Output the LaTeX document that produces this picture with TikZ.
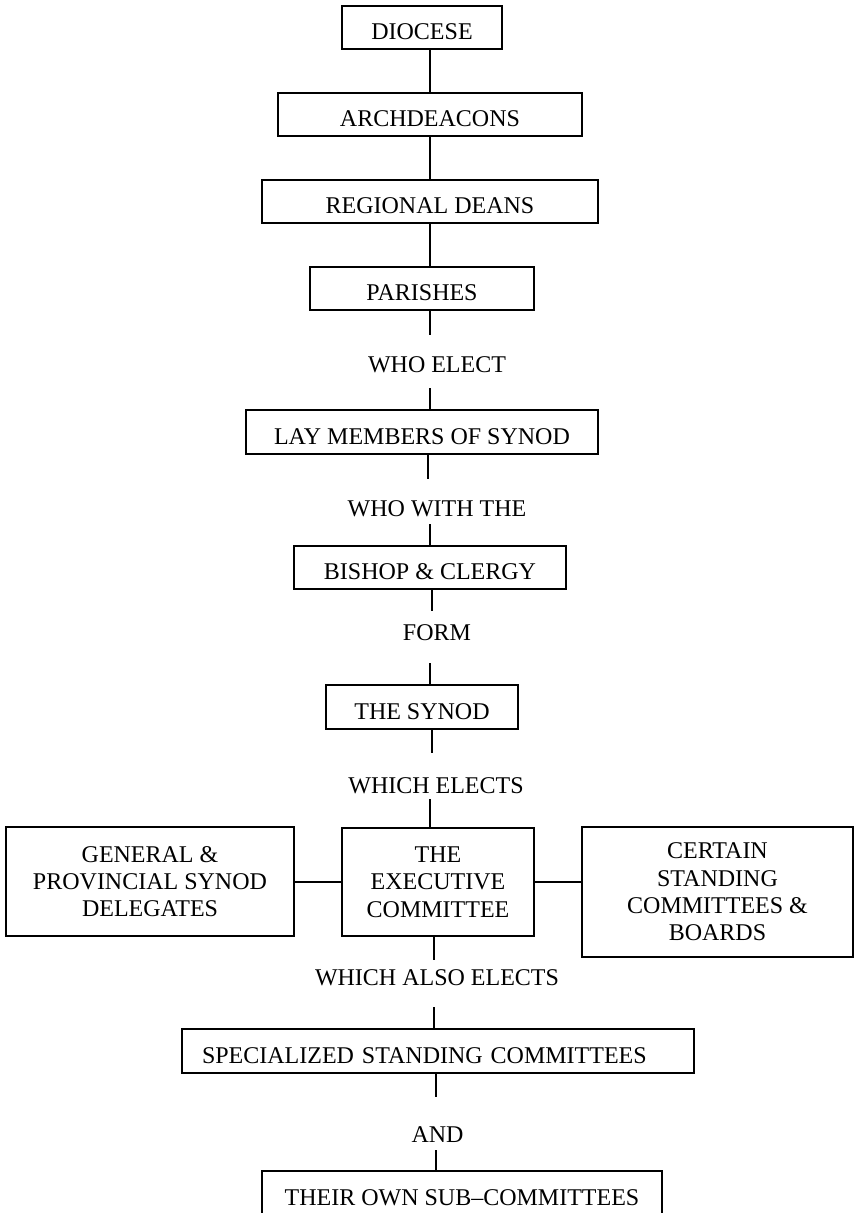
\documentclass[tikz,border=0pt]{standalone}
\usepackage{fontspec}
\setmainfont{Liberation Serif}
\begin{document}
\begin{tikzpicture}[x=1pt,y=-1pt,
  every node/.style={font=\fontsize{24}{27.3}\selectfont, inner sep=0pt},
  box/.style={draw, line width=2pt, text height=24pt, text depth=0pt},
  mbox/.style={draw, line width=2pt, align=center},
  conn/.style={line width=2pt}]
\useasboundingbox (0,0) rectangle (855,1213);
\clip (0,0) rectangle (855,1213);

\node[box, minimum width=160pt, minimum height=43pt] (dio) at (422,27.5) {DIOCESE};
\node[box, minimum width=304pt, minimum height=43pt] (arch) at (430,114.5) {ARCHDEACONS};
\node[box, minimum width=336pt, minimum height=43pt] (reg) at (430,201.5) {REGIONAL DEANS};
\node[box, minimum width=224pt, minimum height=43pt] (par) at (422,288.5) {PARISHES};
\node (elect) at (437,365) {WHO ELECT};
\node[box, minimum width=352pt, minimum height=44pt] (lay) at (422,432) {LAY MEMBERS OF SYNOD};
\node (with) at (437,509) {WHO WITH THE};
\node[box, minimum width=272pt, minimum height=43pt] (bish) at (430,567.5) {BISHOP \& CLERGY};
\node (form) at (437,633) {FORM};
\node[box, minimum width=192pt, minimum height=44pt] (syn) at (422,707) {THE SYNOD};
\node (which) at (436,786) {WHICH ELECTS};
\node[mbox, minimum width=288pt, minimum height=109pt] (gen) at (150,881.5) {GENERAL \&\\PROVINCIAL SYNOD\\DELEGATES};
\node[mbox, minimum width=192pt, minimum height=108pt] (exec) at (438,882) {THE\\EXECUTIVE\\COMMITTEE};
\node[mbox, minimum width=271pt, minimum height=130pt] (cert) at (717.5,892) {CERTAIN\\STANDING\\COMMITTEES \&\\BOARDS};
\node (also) at (437,978) {WHICH ALSO ELECTS};
\node[box, text width=472pt, inner xsep=20pt, align=left, minimum height=44pt] (spec) at (438,1051) {SPECIALIZED STANDING COMMITTEES};
\node (and) at (437.5,1135) {AND};
\node[box, minimum width=400pt, minimum height=44pt] (own) at (462,1193) {THEIR OWN SUB–COMMITTEES};

\draw[conn] (dio.south -| arch.north) -- (arch.north);
\draw[conn] (arch.south) -- (reg.north);
\draw[conn] (reg.south) -- (reg.south |- par.north);
\coordinate (a1) at (430,335); \draw[conn] (par.south -| a1) -- (a1);
\coordinate (a2) at (430,388); \draw[conn] (a2) -- (a2 |- lay.north);
\coordinate (b1) at (428,479); \draw[conn] (lay.south -| b1) -- (b1);
\coordinate (b2) at (430,524); \draw[conn] (b2) -- (b2 |- bish.north);
\coordinate (c1) at (432,611); \draw[conn] (bish.south -| c1) -- (c1);
\coordinate (c2) at (430,663); \draw[conn] (c2) -- (c2 |- syn.north);
\coordinate (d1) at (432,753); \draw[conn] (syn.south -| d1) -- (d1);
\coordinate (d2) at (430,799); \draw[conn] (d2) -- (d2 |- exec.north);
\draw[conn] (gen.east) -- (gen.east -| exec.west);
\draw[conn] (exec.east) -- (exec.east -| cert.west);
\coordinate (e1) at (434,960); \draw[conn] (exec.south -| e1) -- (e1);
\coordinate (e2) at (434,1007); \draw[conn] (e2) -- (e2 |- spec.north);
\coordinate (f1) at (436,1097); \draw[conn] (spec.south -| f1) -- (f1);
\coordinate (f2) at (436,1150); \draw[conn] (f2) -- (f2 |- own.north);
\end{tikzpicture}
\end{document}
